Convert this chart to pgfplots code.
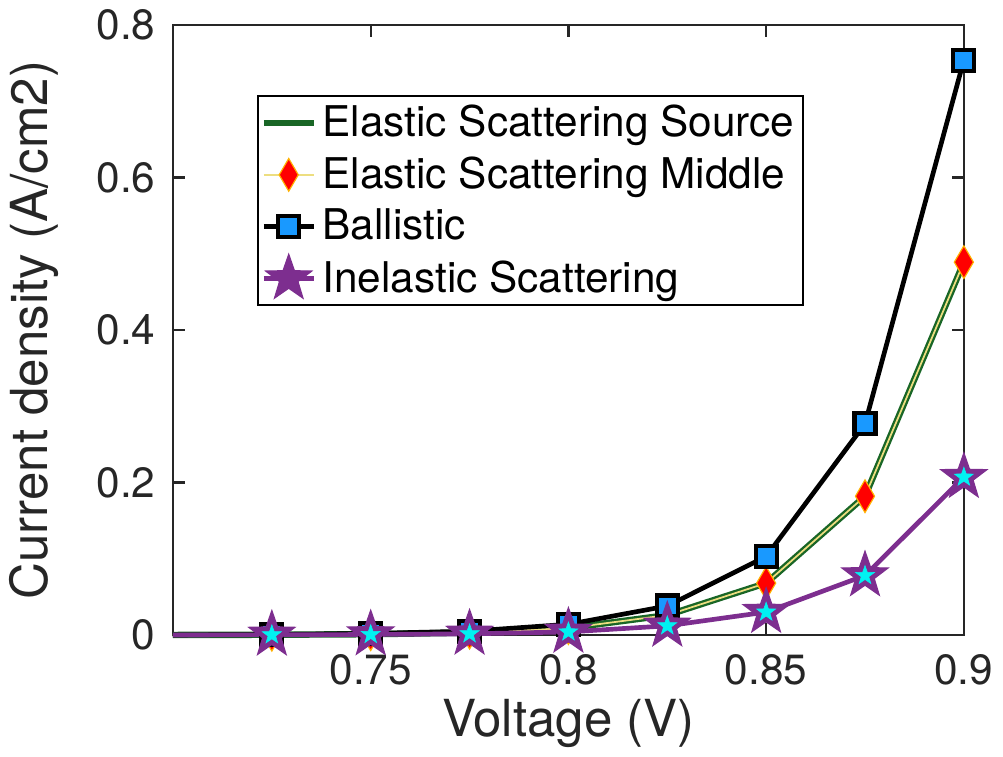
\documentclass[border=0pt]{standalone}
\usepackage{fontspec}
\setmainfont{TeX Gyre Heros}
\usepackage{pgfplots}
\pgfplotsset{compat=1.18}

\definecolor{srcgreen}{rgb}{0.10,0.40,0.15}
\definecolor{midline}{rgb}{0.93,0.87,0.50}
\definecolor{balblue}{rgb}{0.10,0.60,1.00}
\definecolor{inpurple}{rgb}{0.49,0.18,0.56}
\definecolor{incyan}{rgb}{0.00,0.95,0.95}
\definecolor{axgray}{rgb}{0.15,0.15,0.15}

% filled five-pointed star
\pgfdeclareplotmark{fstar}{%
  \pgfpathmoveto{\pgfpointpolar{90}{\pgfplotmarksize}}%
  \pgfpathlineto{\pgfpointpolar{126}{0.40\pgfplotmarksize}}%
  \pgfpathlineto{\pgfpointpolar{162}{\pgfplotmarksize}}%
  \pgfpathlineto{\pgfpointpolar{198}{0.40\pgfplotmarksize}}%
  \pgfpathlineto{\pgfpointpolar{234}{\pgfplotmarksize}}%
  \pgfpathlineto{\pgfpointpolar{270}{0.40\pgfplotmarksize}}%
  \pgfpathlineto{\pgfpointpolar{306}{\pgfplotmarksize}}%
  \pgfpathlineto{\pgfpointpolar{342}{0.40\pgfplotmarksize}}%
  \pgfpathlineto{\pgfpointpolar{18}{\pgfplotmarksize}}%
  \pgfpathlineto{\pgfpointpolar{54}{0.40\pgfplotmarksize}}%
  \pgfpathclose
  \pgfusepathqfillstroke}

\pgfplotstableread{
V      src     mid     bal     inel
0.700  0.0000  0.0000  0.0000  0.0000
0.725  0.0003  0.0003  0.0005  0.0002
0.750  0.0010  0.0010  0.0020  0.0006
0.775  0.0030  0.0030  0.0050  0.0015
0.800  0.0090  0.0090  0.0140  0.0040
0.825  0.0260  0.0260  0.0380  0.0120
0.850  0.0680  0.0680  0.1030  0.0300
0.875  0.1820  0.1820  0.2770  0.0780
0.900  0.4890  0.4890  0.7540  0.2070
}\datatable

\begin{document}
\begin{tikzpicture}
\begin{axis}[
    scale only axis,
    width=271pt, height=209pt,
    xmin=0.7, xmax=0.9,
    ymin=0, ymax=0.8,
    xtick={0.75,0.8,0.85,0.9},
    xticklabels={0.75,0.8,0.85,0.9},
    ytick={0,0.2,0.4,0.6,0.8},
    yticklabels={0,0.2,0.4,0.6,0.8},
    tick align=inside,
    major tick length=4pt,
    axis line style={axgray, line width=0.8pt},
    tick style={axgray, line width=0.8pt},
    ticklabel style={font=\fontsize{14.5}{16}\selectfont, text=axgray},
    xticklabel style={yshift=-3pt},
    yticklabel style={xshift=-2.5pt},
    xlabel={Voltage (V)},
    ylabel={Current density (A/cm2)},
    label style={font=\fontsize{17.5}{20}\selectfont, text=axgray},
    xlabel style={yshift=2pt},
    ylabel style={yshift=6pt},
    legend style={at={(0.106,0.885)}, anchor=north west,
        draw=black, line width=0.6pt, fill=white,
        font=\fontsize{14.5}{17}\selectfont,
        inner xsep=1pt, inner ysep=1pt, row sep=1.5pt},
    legend cell align=left,
    legend image post style={mark indices={2}},
    clip=false,
]
\addplot[srcgreen, line width=2.2pt, no marks] table[x=V, y=src] {\datatable};
\addplot[midline, line width=0.6pt, mark=diamond*, mark indices={2,...,9},
    mark options={fill=red, draw=orange!60!yellow, line width=0.4pt, xscale=0.78, solid},
    mark size=5.6pt] table[x=V, y=mid] {\datatable};
\addplot[black, line width=1.6pt, mark=square*, mark indices={2,...,9},
    mark options={fill=balblue, draw=black, line width=1.4pt},
    mark size=3.6pt] table[x=V, y=bal] {\datatable};
\addplot[inpurple, line width=1.6pt, mark=fstar, mark indices={2,...,9},
    mark options={fill=inpurple, draw=inpurple, line width=0.4pt},
    mark size=8.3pt] table[x=V, y=inel] {\datatable};
\addplot[only marks, mark=fstar, mark indices={2,...,9}, forget plot,
    mark options={fill=incyan, draw=incyan, line width=0.2pt},
    mark size=3.4pt] table[x=V, y=inel] {\datatable};
\legend{Elastic Scattering Source, Elastic Scattering Middle, Ballistic, Inelastic Scattering}
\end{axis}
\end{tikzpicture}
\end{document}
